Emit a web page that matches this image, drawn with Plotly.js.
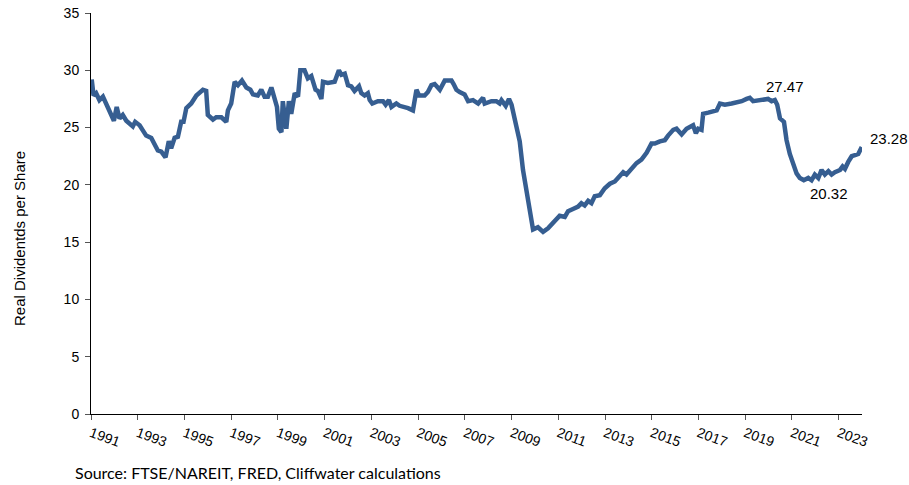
<!DOCTYPE html>
<html>
<head>
<meta charset="utf-8">
<script src="https://cdn.plot.ly/plotly-3.0.1.min.js"></script>
<style>html,body{margin:0;padding:0;background:#fff;}#chart{width:909px;height:485px;}</style>
</head>
<body>
<div id="chart"></div>
<script>
// Decimal years (month positions)
const years = [
1991.03,1991.11,1991.22,1991.36,1991.51,1991.65,1991.87,1991.98,1992.10,1992.22,1992.36,1992.51,1992.79,1992.89,
1993.08,1993.36,1993.58,1993.86,1994.01,1994.19,1994.33,1994.43,1994.58,1994.72,1994.86,1994.96,1995.08,1995.29,
1995.51,1995.79,1995.93,1996.00,1996.22,1996.36,1996.58,1996.79,1996.86,1997.00,1997.15,1997.29,1997.46,1997.65,
1997.82,1997.93,1998.14,1998.29,1998.43,1998.57,1998.72,1998.82,1998.96,1999.04,1999.15,1999.21,1999.36,1999.47,
1999.57,1999.72,1999.86,1999.96,2000.14,2000.28,2000.43,2000.61,2000.71,2000.86,2000.93,2001.14,2001.43,2001.61,
2001.72,2001.86,2002.00,2002.14,2002.28,2002.47,2002.57,2002.71,2002.85,2002.93,2003.04,2003.28,2003.50,2003.61,
2003.75,2003.86,2004.07,2004.21,2004.43,2004.57,2004.78,2004.93,2005.04,2005.28,2005.42,2005.57,2005.71,2005.93,
2006.14,2006.43,2006.52,2006.64,2006.78,2006.99,2007.14,2007.35,2007.57,2007.78,2007.85,2008.14,2008.35,2008.49,
2008.57,2008.75,2008.89,2009.00,2009.14,2009.35,2009.49,2009.57,2009.78,2009.92,2010.13,2010.35,2010.56,2010.85,
2011.06,2011.28,2011.42,2011.63,2011.85,2011.99,2012.13,2012.28,2012.42,2012.56,2012.78,2012.99,2013.21,2013.42,
2013.63,2013.78,2013.92,2014.14,2014.35,2014.56,2014.78,2014.99,2015.13,2015.35,2015.56,2015.70,2015.92,2016.06,
2016.28,2016.49,2016.77,2016.89,2016.99,2017.13,2017.20,2017.42,2017.63,2017.78,2017.92,2018.13,2018.42,2018.70,
2018.85,2019.06,2019.20,2019.34,2019.56,2019.77,2019.98,2020.13,2020.27,2020.37,2020.49,2020.66,2020.77,2020.91,
2021.06,2021.20,2021.34,2021.51,2021.70,2021.84,2021.98,2022.13,2022.27,2022.41,2022.56,2022.70,2022.84,2023.06,
2023.17,2023.27,2023.41,2023.56,2023.70,2023.84,2023.99
];
// Real dividends per share
const dividends = [
29.2,27.8,28.0,27.4,27.7,27.0,26.1,25.6,26.8,25.8,26.1,25.6,25.1,25.5,
25.2,24.3,24.1,23.0,22.9,22.4,23.8,23.2,24.1,24.2,25.5,25.5,26.7,27.1,
27.8,28.3,28.2,26.1,25.7,25.9,25.9,25.5,26.5,27.1,29.0,28.7,29.1,28.5,
28.3,27.9,27.8,28.3,27.7,27.7,28.5,27.7,26.8,24.9,24.6,27.3,24.9,27.3,
26.2,28.0,27.7,30.0,30.0,29.3,29.5,28.3,28.2,27.5,29.0,28.9,29.0,30.0,
29.6,29.7,28.7,28.6,28.2,28.6,28.0,27.8,28.0,27.4,27.1,27.3,27.3,27.0,
27.4,26.8,27.1,26.9,26.8,26.7,26.5,28.3,27.8,27.8,28.1,28.7,28.8,28.3,
29.1,29.1,28.8,28.3,28.1,27.9,27.3,27.4,27.1,27.6,27.1,27.3,27.3,27.1,
27.4,26.9,27.5,27.0,25.7,23.8,21.3,20.4,17.9,16.1,16.3,15.9,16.2,16.9,
17.3,17.2,17.7,17.9,18.1,18.4,18.2,18.6,18.4,19.0,19.1,19.7,20.1,20.3,
20.7,21.1,20.9,21.4,21.9,22.2,22.8,23.6,23.6,23.8,23.9,24.3,24.8,24.9,
24.4,24.9,25.2,24.5,24.9,24.8,26.2,26.3,26.4,26.5,27.1,27.0,27.1,27.2,
27.3,27.5,27.6,27.3,27.4,27.5,27.5,27.3,27.4,27.0,25.8,25.5,23.9,22.7,
21.7,21.0,20.6,20.4,20.6,20.4,20.9,20.6,21.3,20.9,21.2,20.9,21.1,21.3,
21.6,21.4,22.0,22.5,22.6,22.7,23.3
];
const tickYears = [1991,1993,1995,1997,1999,2001,2003,2005,2007,2009,2011,2013,2015,2017,2019,2021,2023];
const tickLabels = tickYears.map(String);
const yTicks = [0,5,10,15,20,25,30,35];
const labelTexts = ['27.47','20.32','23.28'];
const yTitle = 'Real Dividentds per Share';
const sourceText = 'Source: FTSE/NAREIT, FRED, Cliffwater calculations';

const FONT = 'Arial, "Liberation Sans", sans-serif';

const trace = {
  x: years, y: dividends, type: 'scatter', mode: 'lines',
  line: {color: '#365E91', width: 4.5, shape: 'linear'},
  hoverinfo: 'skip', cliponaxis: false
};

const layout = {
  width: 909, height: 485,
  margin: {l: 91, r: 47, t: 13, b: 71},
  paper_bgcolor: '#ffffff', plot_bgcolor: '#ffffff',
  showlegend: false,
  font: {family: FONT, size: 14, color: '#000'},
  xaxis: {
    range: [1991, 2024], tickmode: 'array', tickvals: tickYears, ticktext: tickLabels,
    tickangle: 20, ticks: 'outside', ticklen: 5, tickcolor: '#555', tickwidth: 1,
    showline: true, linecolor: '#000', linewidth: 1, showgrid: false, zeroline: false,
    tickfont: {family: FONT, size: 14, color: '#000'}
  },
  yaxis: {
    range: [0, 35], tickmode: 'array', tickvals: yTicks,
    ticks: 'outside', ticklen: 5, tickcolor: '#555', tickwidth: 1,
    showline: true, linecolor: '#000', linewidth: 1, showgrid: false, zeroline: false,
    tickfont: {family: FONT, size: 14, color: '#000'}, ticklabelstandoff: 3
  },
  annotations: [
    {xref: 'paper', yref: 'paper', x: (785-91)/771, y: (414-86.5)/401, text: labelTexts[0], showarrow: false,
     xanchor: 'center', yanchor: 'middle', font: {family: FONT, size: 15, color: '#000'}},
    {xref: 'paper', yref: 'paper', x: (829-91)/771, y: (414-193)/401, text: labelTexts[1], showarrow: false,
     xanchor: 'center', yanchor: 'middle', font: {family: FONT, size: 15, color: '#000'}},
    {xref: 'paper', yref: 'paper', x: (868-91)/771, y: (414-138)/401, xanchor: 'left', yanchor: 'middle', text: labelTexts[2], showarrow: false,
     font: {family: FONT, size: 15, color: '#000'}},
    {xref: 'paper', yref: 'paper', x: (19-91)/771, y: (414-239)/401, xanchor: 'center', yanchor: 'middle', text: yTitle, textangle: -90, showarrow: false,
     font: {family: FONT, size: 15, color: '#000'}},
    {xref: 'paper', yref: 'paper', x: (73-91)/771, y: (414-472)/401, xanchor: 'left', yanchor: 'middle', text: sourceText, showarrow: false,
     font: {family: 'Lato, "Open Sans", sans-serif', size: 16, color: '#000'}}
  ]
};

Plotly.newPlot('chart', [trace], layout, {displayModeBar: false, staticPlot: true});
</script>
</body>
</html>
